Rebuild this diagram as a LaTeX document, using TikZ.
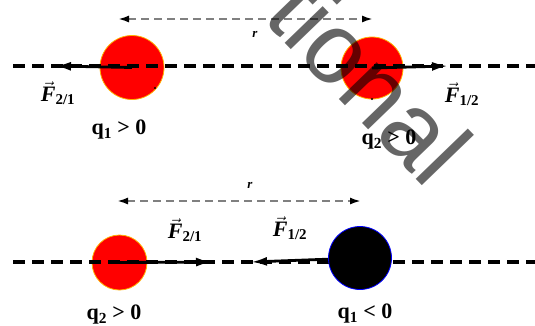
\documentclass[tikz,border=0pt]{standalone}
\usepackage{fontspec}
\usepackage{amsmath}
\setmainfont{Liberation Serif}
\newfontfamily\wmfont{Liberation Sans}
\usetikzlibrary{arrows.meta}
\newcommand{\Fvec}[1]{$\vec{\mbox{\bfseries\itshape F}}_{\mbox{\bfseries\fontsize{15}{15}\selectfont #1}}$}
\begin{document}
\begin{tikzpicture}[x=1pt,y=-1pt,
  mainline/.style={line width=3.5pt, dash pattern=on 12pt off 7pt},
  rline/.style={line width=2pt, draw=black!50, dash pattern=on 8pt off 5pt,
    {Latex[color=black,length=11pt,width=7pt]}-{Latex[color=black,length=11pt,width=7pt]}},
  force/.style={line width=2.8pt, -{Latex[length=16pt,width=9pt]}},
  lbl/.style={font=\fontsize{22}{24}\selectfont\bfseries, inner sep=0pt},
  rlbl/.style={font=\fontsize{13}{13}\selectfont\bfseries\itshape, inner sep=0pt},
  redq/.style={circle, inner sep=0pt, fill=red, draw=orange!60!yellow, line width=0.8pt},
  blackq/.style={circle, inner sep=0pt, fill=black, draw=blue, line width=0.8pt}
]
\useasboundingbox (0,0) rectangle (535,325);
\clip (0,0) rectangle (535,325);

% charges
\node[redq, minimum size=64pt] (c1) at (132,67.5) {};
\node[redq, minimum size=62pt] (c2) at (372,68) {};
\node[redq, minimum size=55pt] (c3) at (119.5,262.5) {};

% axis lines
\coordinate (tl) at (13,66);
\coordinate (tr) at (545,66);
\coordinate (bl) at (13,262);
\coordinate (br) at (545,262);
\draw[mainline] (tl) -- (tr);
\draw[mainline] (bl) -- (br);
\node[blackq, minimum size=63pt] (c4) at (360,258) {};

% distance arrows
\coordinate (r1a) at (118,19);
\coordinate (r1b) at (373,19);
\coordinate (r2a) at (117,201);
\coordinate (r2b) at (361,201);
\draw[rline] (r1a) -- (r1b);
\draw[rline] (r2a) -- (r2b);
\node[rlbl] (ra) at (255,34) {r};
\node[rlbl] (rb) at (250,185) {r};

% forces
\coordinate (f21t) at (55,66);
\coordinate (f12t) at (448,66);
\coordinate (f21b) at (212,262);
\coordinate (f12b) at (251,262);
\draw[force] (c1.center) -- (f21t);
\draw[force] (c2.center) -- (f12t);
\draw[force] (c3.center) -- (f21b);
\draw[force] (c4) -- (f12b);

% small dots
\fill (155,88) circle (1.2pt);
\fill (372,99) circle (1.2pt);

% labels
\node[lbl] (F21a) at (58,93) {\Fvec{2/1}};
\node[lbl] (F12a) at (462,94) {\Fvec{1/2}};
\node[lbl] (F21b) at (185,230) {\Fvec{2/1}};
\node[lbl] (F12b) at (290,228) {\Fvec{1/2}};
\node[lbl] (q1a) at (119,130) {q\textsubscript{1} > 0};
\node[lbl] (q2a) at (389,140) {q\textsubscript{2} > 0};
\node[lbl] (q2b) at (114,315) {q\textsubscript{2} > 0};
\node[lbl] (q1b) at (365,314) {q\textsubscript{1} < 0};

% watermark
\node[font=\wmfont\fontsize{100}{100}\selectfont, text=black, text opacity=0.6,
  rotate=-46, anchor=base west, inner sep=0pt] (wm) at (261,18) {tional};
\end{tikzpicture}
\end{document}
